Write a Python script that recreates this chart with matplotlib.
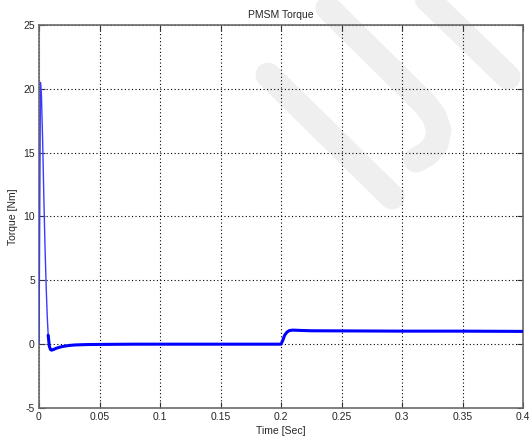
import matplotlib
matplotlib.use("Agg")
import matplotlib.pyplot as plt
from matplotlib.lines import Line2D
import numpy as np

# Simulated electromagnetic torque of the PMSM drive
time_s = [0.0, 0.0012, 0.002, 0.003, 0.004, 0.005, 0.006, 0.0068, 0.0076,
          0.0085, 0.0095, 0.0105, 0.012, 0.014, 0.017, 0.02, 0.025, 0.03, 0.04,
          0.05, 0.08, 0.12, 0.16, 0.2, 0.2015, 0.203, 0.205, 0.207, 0.21, 0.215,
          0.225, 0.25, 0.3, 0.35, 0.4]
torque_nm = [0.0, 20.5, 19.5, 16.0, 11.5, 7.5, 4.3, 2.2, 0.7,
             -0.15, -0.42, -0.47, -0.42, -0.33, -0.24, -0.17, -0.10, -0.06, -0.03,
             -0.02, 0.0, 0.0, 0.0, 0.0, 0.3, 0.7, 0.95, 1.07, 1.10, 1.08,
             1.05, 1.04, 1.02, 1.02, 1.0]

x_ticks = [0, 0.05, 0.1, 0.15, 0.2, 0.25, 0.3, 0.35, 0.4]
x_tick_labels = ["0", "0.05", "0.1", "0.15", "0.2", "0.25", "0.3", "0.35", "0.4"]
y_ticks = [-5, 0, 5, 10, 15, 20, 25]
y_tick_labels = ["-5", "0", "5", "10", "15", "20", "25"]

plt.rcParams["font.family"] = ["Liberation Sans", "DejaVu Sans"]
text_color = "#262626"

W, H = 529, 438
fig = plt.figure(figsize=(W / 100, H / 100), dpi=100)
fig.patch.set_facecolor("white")

# light grey background emblem behind the plot
def px(points):
    xs = [p[0] / W for p in points]
    ys = [1 - p[1] / H for p in points]
    return xs, ys

emblem = [
    [(268, 75), (392, 197)],
    [(328, 8), (425, 104), (434, 116), (439, 130), (436, 144), (427, 154), (416, 160)],
    [(418, -10), (508, 77)],
]
for stroke in emblem:
    xs, ys = px(stroke)
    ln = Line2D(xs, ys, transform=fig.transFigure, color="#efefef", lw=18,
                solid_capstyle="round", solid_joinstyle="round", zorder=-5)
    fig.add_artist(ln)

ax = fig.add_axes([39 / W, 1 - 408 / H, 484 / W, 383 / H])
ax.set_facecolor("none")

t = np.array(time_s)
q = np.array(torque_nm)
n_spike = 9
ax.plot(t[:n_spike], q[:n_spike], color="#3a3aff", lw=1.0, zorder=3)
ax.plot(t[n_spike - 1:], q[n_spike - 1:], color="#0000ff", lw=2.2, zorder=3,
        solid_capstyle="round", solid_joinstyle="round")

ax.set_xlim(0, 0.4)
ax.set_ylim(-5, 25)
ax.set_xticks(x_ticks)
ax.set_xticklabels(x_tick_labels)
ax.set_yticks(y_ticks)
ax.set_yticklabels(y_tick_labels)

ax.grid(True, color="black", linestyle=(0, (1, 2.2)), linewidth=0.8)
ax.tick_params(direction="in", length=4, width=0.8, colors="#333333",
               labelcolor=text_color, labelsize=7.5, top=True, right=True, pad=3)
for s in ax.spines.values():
    s.set_color("#6a6a6a")
    s.set_linewidth(1.2)

ax.set_title("PMSM Torque", fontsize=7.5, color=text_color, pad=5)
ax.set_xlabel("Time [Sec]", fontsize=7.5, color=text_color, labelpad=3)
ax.set_ylabel("Torque [Nm]", fontsize=7.5, color=text_color, labelpad=4)

fig.savefig("out.png", dpi=100)
